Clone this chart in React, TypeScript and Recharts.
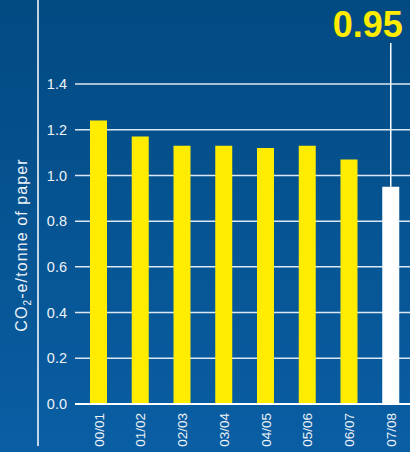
import { BarChart, Bar, XAxis, YAxis, CartesianGrid, Cell, LabelList } from "recharts";

// CO2-e emissions per tonne of paper, by financial year
const years = ["00/01", "01/02", "02/03", "03/04", "04/05", "05/06", "06/07", "07/08"];
const emissions = [1.24, 1.17, 1.13, 1.13, 1.12, 1.13, 1.07, 0.95];
const yTicks = [0, 0.2, 0.4, 0.6, 0.8, 1.0, 1.2, 1.4];
const highlightYear = "07/08";

const FONT = "'Liberation Sans', Arial, Helvetica, sans-serif";
const YELLOW = "#ffec00";

const data = years.map((year, i) => ({ year, value: emissions[i] }));

function XTick(props: any) {
  const { x, y, payload } = props;
  const top = y + 1;
  return (
    <text
      x={x}
      y={top}
      transform={`rotate(-90, ${x}, ${top})`}
      textAnchor="end"
      dy="0.35em"
      fill="#eef3f8"
      fontSize={13.5}
      fontFamily={FONT}
    >
      {payload.value}
    </text>
  );
}

function YAxisTitle() {
  return (
    <g>
      <line x1={38} y1={0} x2={38} y2={446} stroke="#ffffff" strokeWidth={1.5} />
      <text
        x={21}
        y={245}
        transform="rotate(-90, 21, 245)"
        textAnchor="middle"
        dy="0.35em"
        fill="#eef3f8"
        fontSize={16}
        letterSpacing={1.1}
        fontFamily={FONT}
      >
        CO<tspan fontSize={10} dy={4}>2</tspan>
        <tspan dy={-4}>-e/tonne of paper</tspan>
      </text>
    </g>
  );
}

function Callout(props: any) {
  const { x, y, width, index } = props;
  if (years[index] !== highlightYear) return null;
  const cx = x + width / 2;
  return (
    <g>
      <line x1={cx} y1={43} x2={cx} y2={y} stroke="#ffffff" strokeWidth={1.5} />
      <text
        x={cx + 12}
        y={37}
        textAnchor="end"
        fill={YELLOW}
        fontSize={36}
        fontWeight="bold"
        fontFamily={FONT}
      >
        {emissions[index].toFixed(2)}
      </text>
    </g>
  );
}

export default function App() {
  return (
    <div
      style={{
        position: "fixed",
        left: 0,
        top: 0,
        width: 410,
        height: 452,
        overflow: "hidden",
        background: "linear-gradient(to bottom, #024a82 0%, #0a5ea3 100%)",
      }}
    >
      <BarChart width={412} height={452} data={data} margin={{ top: 84, right: 0, left: 0, bottom: 0 }}>
        <CartesianGrid vertical={false} stroke="#dde7f1" strokeWidth={1.5} />
        <XAxis
          dataKey="year"
          height={48}
          padding={{ left: 3, right: 0 }}
          axisLine={{ stroke: "#ffffff", strokeWidth: 2 }}
          tickLine={false}
          interval={0}
          tick={<XTick />}
        />
        <YAxis
          width={75}
          domain={[0, 1.4]}
          ticks={yTicks}
          tickFormatter={(v: number) => v.toFixed(1)}
          axisLine={false}
          tickLine={false}
          tickSize={0}
          tickMargin={8}
          tick={{ fill: "#eef3f8", fontSize: 14.5, fontFamily: FONT }}
          label={<YAxisTitle />}
        />
        <Bar dataKey="value" barSize={17} isAnimationActive={false}>
          {data.map((d) => (
            <Cell key={d.year} fill={d.year === highlightYear ? "#ffffff" : YELLOW} />
          ))}
          <LabelList dataKey="value" content={<Callout />} />
        </Bar>
      </BarChart>
    </div>
  );
}
